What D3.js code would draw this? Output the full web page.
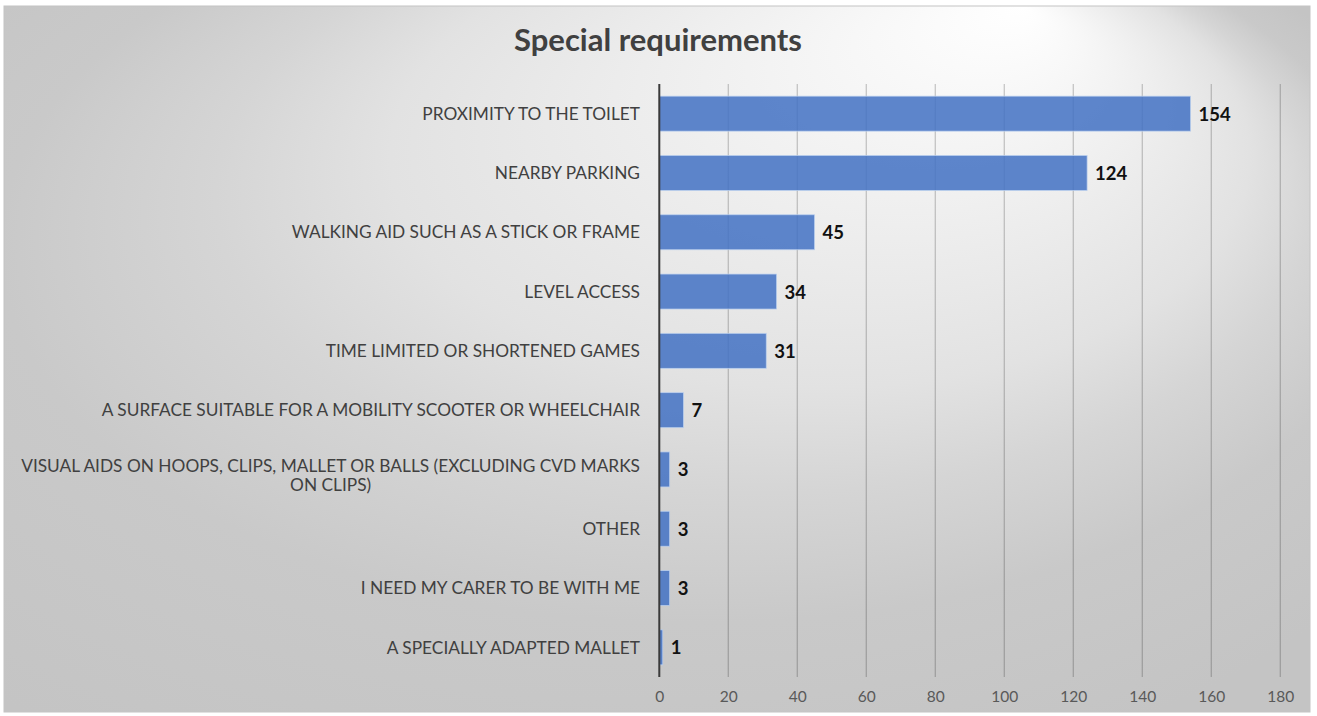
<!DOCTYPE html>
<html>
<head>
<meta charset="utf-8">
<script src="https://cdn.jsdelivr.net/npm/d3@7"></script>
<style>
  html, body { margin: 0; padding: 0; background: #ffffff; }
  svg { display: block; }
</style>
</head>
<body>
<svg id="chart" width="1317" height="716"></svg>
<script>
// ---- data ----
const title = "Special requirements";
const categories = [
  "PROXIMITY TO THE TOILET",
  "NEARBY PARKING",
  "WALKING AID SUCH AS A STICK OR FRAME",
  "LEVEL ACCESS",
  "TIME LIMITED OR SHORTENED GAMES",
  "A SURFACE SUITABLE FOR A MOBILITY SCOOTER OR WHEELCHAIR",
  "VISUAL AIDS ON HOOPS, CLIPS, MALLET OR BALLS (EXCLUDING CVD MARKS ON CLIPS)",
  "OTHER",
  "I NEED MY CARER TO BE WITH ME",
  "A SPECIALLY ADAPTED MALLET"
];
const values = [154, 124, 45, 34, 31, 7, 3, 3, 3, 1];
const xTicks = [0, 20, 40, 60, 80, 100, 120, 140, 160, 180];

// ---- layout ----
const frame = {x: 4, y: 6, w: 1306, h: 706};
const plot = {left: 659.3, right: 1280.3, top: 84, bottom: 677};
const FONT = "Lato, 'Open Sans', sans-serif";

const svg = d3.select("#chart");
const defs = svg.append("defs");
const grad = defs.append("radialGradient")
  .attr("id", "bg")
  .attr("cx", 0.45).attr("cy", 0.45).attr("r", 0.7)
  .attr("fx", 0.78).attr("fy", 0.0);
[[0, "#ffffff"], [0.22, "#f1f1f1"], [0.47, "#e2e2e2"], [0.6, "#d5d5d5"], [0.76, "#c9c9c9"], [1, "#c4c4c4"]]
  .forEach(([o, c]) => grad.append("stop").attr("offset", o).attr("stop-color", c));

svg.append("rect")
  .attr("x", frame.x).attr("y", frame.y).attr("width", frame.w).attr("height", frame.h)
  .attr("fill", "url(#bg)")
  .attr("stroke", "#c4c4c4").attr("stroke-width", 1);

// title
svg.append("text")
  .attr("x", 658).attr("y", 51)
  .attr("text-anchor", "middle")
  .attr("font-family", FONT).attr("font-weight", 700).attr("font-size", 31)
  .attr("fill", "#404040")
  .text(title);

const x = d3.scaleLinear().domain([0, 180]).range([plot.left, plot.right]);
const y = d3.scaleBand().domain(categories).range([plot.top, plot.bottom]).paddingInner(0.41).paddingOuter(0.205);

// gridlines
svg.append("g").selectAll("line")
  .data(xTicks.filter(d => d > 0))
  .join("line")
  .attr("x1", d => x(d)).attr("x2", d => x(d))
  .attr("y1", plot.top).attr("y2", plot.bottom)
  .attr("stroke", "rgba(0,0,0,0.2)").attr("stroke-width", 1.3);

// bars
svg.append("g").selectAll("rect")
  .data(values)
  .join("rect")
  .attr("x", x(0))
  .attr("y", (d, i) => y(categories[i]))
  .attr("width", d => x(d) - x(0))
  .attr("height", y.bandwidth())
  .attr("fill", "rgba(68,114,196,0.86)")
  .attr("stroke", "rgba(190,210,240,0.9)").attr("stroke-width", 0.8);

// axis line
svg.append("line")
  .attr("x1", x(0)).attr("x2", x(0))
  .attr("y1", plot.top).attr("y2", plot.bottom)
  .attr("stroke", "#3a3a3a").attr("stroke-width", 2);

// x tick labels via axis
const xAxis = d3.axisBottom(x).tickValues(xTicks).tickSize(0).tickPadding(0);
const gx = svg.append("g").attr("transform", `translate(0, ${plot.bottom + 14})`).call(xAxis);
gx.select(".domain").remove();
gx.selectAll("text")
  .attr("font-family", FONT).attr("font-size", 15.5)
  .attr("fill", "#595959")
  .attr("dy", "0.71em");

// value labels
svg.append("g").selectAll("text")
  .data(values)
  .join("text")
  .attr("x", d => x(d) + 8)
  .attr("y", (d, i) => y(categories[i]) + y.bandwidth() / 2)
  .attr("dy", "0.38em")
  .attr("font-family", FONT).attr("font-weight", 700).attr("font-size", 18.5)
  .attr("fill", "#111111")
  .text(d => d);

// category labels (wrapped, block right-aligned, lines centred)
const labelRight = 640;
const maxW = 635;
const lineH = 19;
const gy = svg.append("g");
categories.forEach((cat, i) => {
  const t = gy.append("text")
    .attr("font-family", FONT).attr("font-size", 17.3)
    .attr("fill", "#404040");
  const words = cat.split(" ");
  const lines = [];
  let cur = [];
  const probe = t.append("tspan");
  words.forEach(w => {
    const test = cur.concat([w]).join(" ");
    probe.text(test);
    if (probe.node().getComputedTextLength() > maxW && cur.length) {
      lines.push(cur.join(" "));
      cur = [w];
    } else {
      cur.push(w);
    }
  });
  lines.push(cur.join(" "));
  const widths = lines.map(l => { probe.text(l); return probe.node().getComputedTextLength(); });
  probe.remove();
  const blockW = Math.max(...widths);
  const n = lines.length;
  const cy = y(cat) + y.bandwidth() / 2 + (n > 1 ? 6 : 0);
  t.attr("text-anchor", n === 1 ? "end" : "middle");
  lines.forEach((l, k) => {
    t.append("tspan")
      .attr("x", n === 1 ? labelRight : labelRight - blockW / 2)
      .attr("y", cy + (k - (n - 1) / 2) * lineH)
      .attr("dy", "0.36em")
      .text(l);
  });
});
</script>
</body>
</html>
